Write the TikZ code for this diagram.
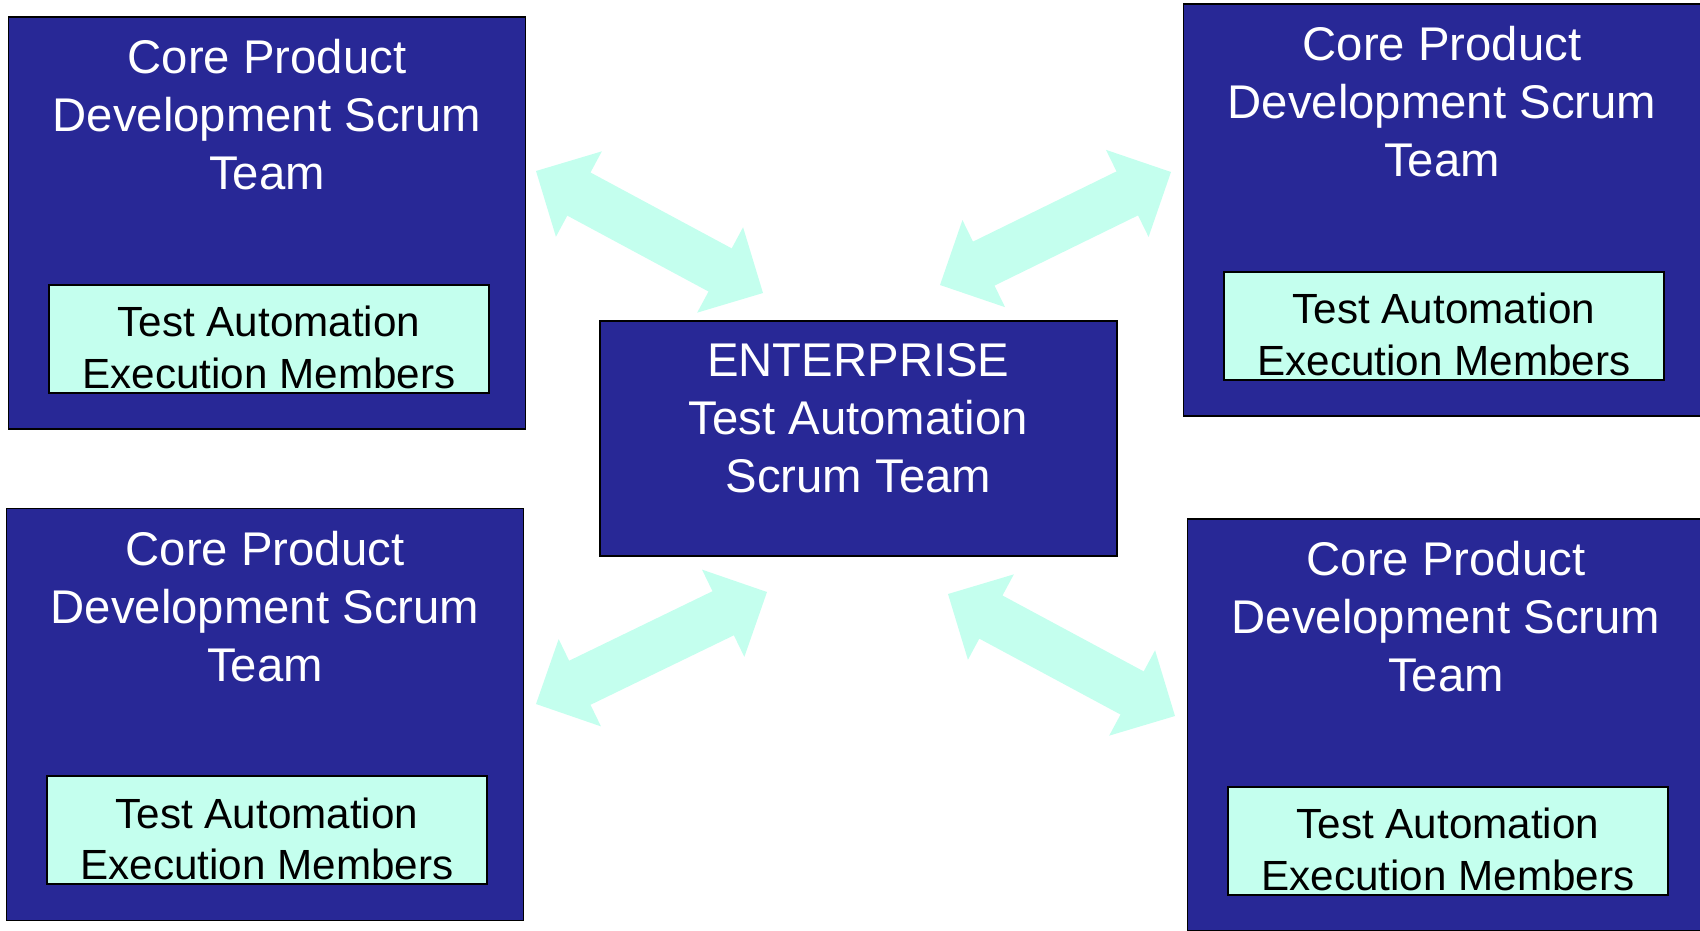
\documentclass[tikz,border=0pt]{standalone}
\usepackage{fontspec}
\setmainfont{Liberation Sans}
\usetikzlibrary{calc}

\definecolor{teamblue}{RGB}{40,40,150}
\definecolor{mint}{RGB}{196,255,238}

\tikzset{
  team/.style={draw=black, line width=1.8pt, fill=teamblue, minimum width=517pt, minimum height=412pt, inner sep=0pt},
  title/.style={text=white, align=center, font=\fontsize{47.3}{58}\selectfont, inner sep=0pt, anchor=base},
  execbox/.style={draw=black, line width=1.8pt, fill=mint, minimum width=440pt, minimum height=108pt, inner sep=0pt},
  exectext/.style={align=center, font=\fontsize{42.2}{51.7}\selectfont, inner sep=0pt, anchor=base},
  arrowfill/.style={fill=mint}
}

% double headed block arrow between two named points
\newcommand\twoway[2]{%
  \fill[arrowfill] (#1)
    -- ($(#1)!48.7pt!(#2)!48.5pt!90:(#2)$)
    -- ($(#1)!48.7pt!(#2)!24.5pt!90:(#2)$)
    -- ($(#2)!48.7pt!(#1)!24.5pt!-90:(#1)$)
    -- ($(#2)!48.7pt!(#1)!48.5pt!-90:(#1)$)
    -- (#2)
    -- ($(#2)!48.7pt!(#1)!48.5pt!90:(#1)$)
    -- ($(#2)!48.7pt!(#1)!24.5pt!90:(#1)$)
    -- ($(#1)!48.7pt!(#2)!24.5pt!-90:(#2)$)
    -- ($(#1)!48.7pt!(#2)!48.5pt!-90:(#2)$)
    -- cycle;}

\begin{document}
\begin{tikzpicture}[x=1pt,y=-1pt]
\useasboundingbox (0,0) rectangle (1700,930);

% the four product teams (base anchor = last line)
\foreach \n/\x/\y in {tl/267/223, tr/1442/210, bl/265/714.5, br/1446/725} {
	\node[team] (\n) at (\x,\y) {};
	\node[title] (\n title) at ([yshift=-173.5pt]\n.north) {Core Product\\Development Scrum\\Team};
	\node[execbox] (\n exec) at ([xshift=2pt,yshift=-322.6pt]\n.north) {};
	\node[exectext] (\n exec text) at ([yshift=-104.5pt]\n exec.north) {Test Automation\\Execution Members};
}

\node[team, minimum height=235pt] (hub) at (858.3,438.2) {};
\node[title] (hub title) at ([yshift=-173pt]hub.north) {ENTERPRISE\\Test Automation\\Scrum Team};

\coordinate (tl tip) at (536,171);  \coordinate (hub tl) at (763,293);
\coordinate (tr tip) at (1171,172); \coordinate (hub tr) at (940,285);
\coordinate (bl tip) at (536,704);  \coordinate (hub bl) at (767,592);
\coordinate (br tip) at (1175,716); \coordinate (hub br) at (948,594);

\twoway{tl tip}{hub tl}
\twoway{tr tip}{hub tr}
\twoway{bl tip}{hub bl}
\twoway{br tip}{hub br}

\end{tikzpicture}
\end{document}
